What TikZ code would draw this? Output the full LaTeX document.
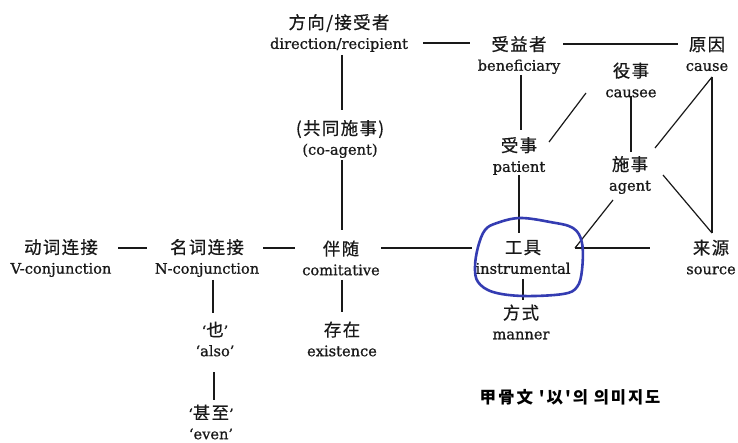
\documentclass[tikz,border=0pt]{standalone}
\usepackage{fontspec}
\newfontfamily\zh[LetterSpace=8,FakeBold=0.6]{Noto Sans CJK SC}
\newfontfamily\en[FakeBold=0.8]{DejaVu Serif}
\newfontfamily\kr[LetterSpace=12]{Noto Sans CJK KR}
\definecolor{ink}{RGB}{25,25,25}
\definecolor{pen}{RGB}{52,60,178}
\tikzset{
  term/.style={align=center, inner sep=0pt, text=ink,
    font=\fontsize{14}{20}\selectfont},
  ln/.style={draw=ink, line width=1.2pt},
}
\newcommand\zhs[1]{{\zh\fontsize{17.4}{20}\selectfont #1}}
\newcommand\ens[1]{{\en\fontsize{14.6}{20}\selectfont #1}}
\begin{document}
\begin{tikzpicture}[x=1pt,y=-1pt]
\useasboundingbox[fill=white] (0,0) rectangle (738,443);
% nodes
\node[term] (dir) at (339,33) {\zhs{方向/接受者}\\\ens{direction/recipient}};
\node[term] (ben) at (519,55) {\zhs{受益者}\\\ens{beneficiary}};
\node[term] (cause) at (707,54) {\zhs{原因}\\\ens{cause}};
\node[term] (causee) at (631,80) {\zhs{役事}\\\ens{causee}};
\node[term] (coag) at (340,139) {\zhs{(共同施事)}\\\ens{(co-agent)}};
\node[term] (pat) at (519,156) {\zhs{受事}\\\ens{patient}};
\node[term] (agent) at (630,175) {\zhs{施事}\\\ens{agent}};
\node[term] (vconj) at (61,258) {\zhs{动词连接}\\\ens{V-conjunction}};
\node[term] (nconj) at (207,258) {\zhs{名词连接}\\\ens{N-conjunction}};
\node[term] (comit) at (341,258) {\zhs{伴随}\\\ens{comitative}};
\node[term] (instr) at (523,257) {\zhs{工具}\\\ens{instrumental}};
\node[term] (source) at (711,257) {\zhs{来源}\\\ens{source}};
\node[term] (manner) at (521,322) {\zhs{方式}\\\ens{manner}};
\node[term] (also) at (215,339) {\ens{‘}\zhs{也}\ens{’}\\\ens{‘also’}};
\node[term] (exist) at (342,339) {\zhs{存在}\\\ens{existence}};
\node[term] (even) at (211,422) {\ens{‘}\zhs{甚至}\ens{’}\\\ens{‘even’}};
\node[inner sep=0pt, text=black, font=\kr\bfseries\fontsize{16.5}{18}\selectfont] (cap) at (570,397) {甲骨文 '以'의 의미지도};
% connectors
\draw[ln] ([shift={(84,10)}]dir.center) -- ([shift={(-49,-12)}]ben.center);
\draw[ln] ([shift={(44,-11)}]ben.center) -- ([shift={(-29,-10)}]cause.center);
\draw[ln] ([shift={(3,22)}]dir.center) -- ([shift={(2,-29)}]coag.center);
\draw[ln] ([shift={(2,21)}]coag.center) -- ([shift={(1,-28)}]comit.center);
\draw[ln] ([shift={(2,20)}]ben.center) -- ([shift={(2,-26)}]pat.center);
\draw[ln] ([shift={(30,-14)}]pat.center) -- ([shift={(-45,13)}]causee.center);
\draw[ln] ([shift={(0,16)}]causee.center) -- ([shift={(1,-23)}]agent.center);
\draw[ln] ([shift={(25,-27)}]agent.center) -- ([shift={(5,23)}]cause.center);
\draw[ln] ([shift={(5,23)}]cause.center) -- ([shift={(1,-24)}]source.center);
\draw[ln] ([shift={(33,0)}]agent.center) -- ([shift={(1,-24)}]source.center);
\draw[ln] ([shift={(-17,25)}]agent.center) -- ([shift={(52,-9)}]instr.center);
\draw[ln] ([shift={(52,-9)}]instr.center) -- ([shift={(-61,-9)}]source.center);
\draw[ln] ([shift={(40,-10)}]comit.center) -- ([shift={(-51,-9)}]instr.center);
\draw[ln] ([shift={(57,-10)}]vconj.center) -- ([shift={(-60,-10)}]nconj.center);
\draw[ln] ([shift={(56,-10)}]nconj.center) -- ([shift={(-46,-10)}]comit.center);
\draw[ln] ([shift={(-4,-24)}]instr.center) -- ([shift={(0,19)}]pat.center);
\draw[ln] ([shift={(0,22)}]instr.center) -- ([shift={(2,-22)}]manner.center);
\draw[ln] ([shift={(6,22)}]nconj.center) -- ([shift={(-2,-26)}]also.center);
\draw[ln] ([shift={(-1,33)}]also.center) -- ([shift={(3,-22)}]even.center);
\draw[ln] ([shift={(1,22)}]comit.center) -- ([shift={(0,-27)}]exist.center);
% hand-drawn circle around instrumental
\draw[pen, line width=2.6pt, line join=round] plot[smooth cycle, tension=0.6] coordinates {
 (497,223) (520,218) (550,222) (573,228) (582,243) (582,270) (577,287)
 (563,294) (523,296) (493,292) (478,282) (475,267) (478,247) (485,230)};
\end{tikzpicture}
\end{document}
